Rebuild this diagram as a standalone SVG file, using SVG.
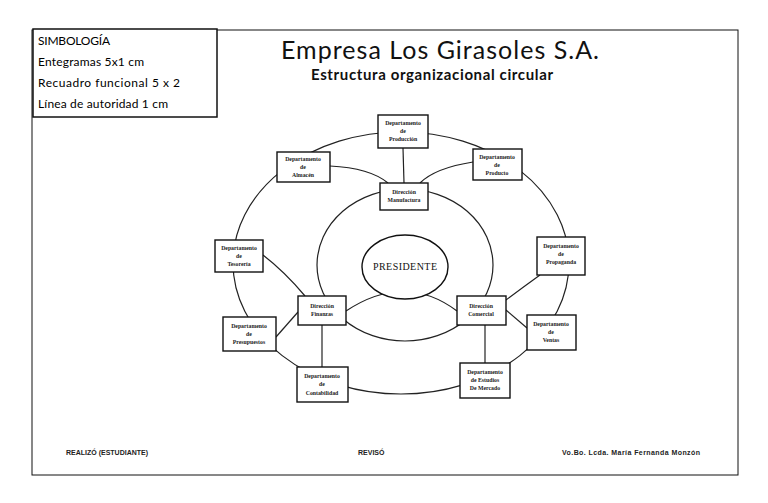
<svg xmlns="http://www.w3.org/2000/svg" width="768" height="503" viewBox="0 0 768 503">
<style>
.box{fill:#fff;stroke:#111;stroke-width:1.4}
.ln{fill:none;stroke:#222;stroke-width:1.2}
.bt{font-family:"Liberation Serif",serif;font-size:5.8px;font-weight:bold;fill:#222;text-anchor:middle}
.lg{font-family:Lato,"Liberation Sans",sans-serif;font-size:12px;fill:#000}
.ft{font-family:"Liberation Sans",sans-serif;font-size:7px;font-weight:bold;fill:#222}
</style>
<rect x="0" y="0" width="768" height="503" fill="#fff"/>
<rect x="32" y="30" width="706" height="445" fill="none" stroke="#111" stroke-width="1"/>
<g id="legend">
<rect x="33" y="29" width="184" height="88" fill="#fff" stroke="#111" stroke-width="1.5"/>
<text class="lg" x="38" y="45" textLength="72">SIMBOLOGÍA</text>
<text class="lg" x="38" y="66" textLength="106">Entegramas 5x1 cm</text>
<text class="lg" x="38" y="87" textLength="142">Recuadro funcional 5 x 2</text>
<text class="lg" x="38" y="108" textLength="130">Línea de autoridad 1 cm</text>
</g>
<g id="title">
<text x="440" y="59" font-family="Lato,'Liberation Sans',sans-serif" font-size="25" text-anchor="middle" fill="#111" textLength="318">Empresa Los Girasoles S.A.</text>
<text x="432" y="80" font-family="Lato,'Liberation Sans',sans-serif" font-size="15" font-weight="bold" text-anchor="middle" fill="#111" textLength="242">Estructura organizacional circular</text>
</g>
<g id="connectors">
<ellipse class="ln" cx="401" cy="263" rx="168" ry="131"/>
<ellipse class="ln" cx="405" cy="265" rx="88" ry="76"/>
<path class="ln" d="M346,311 Q405,272 457,311"/>
<line class="ln" x1="403" y1="148" x2="404" y2="183"/>
<path class="ln" d="M330,166 Q370,168 388,183"/>
<path class="ln" d="M473,162 Q435,168 420,183"/>
<path class="ln" d="M263,255 Q285,272 305,296"/>
<line class="ln" x1="276" y1="337" x2="298" y2="312"/>
<line class="ln" x1="322" y1="325" x2="322" y2="367"/>
<path class="ln" d="M540,275 Q522,288 506,300"/>
<line class="ln" x1="506" y1="310" x2="527" y2="328"/>
<line class="ln" x1="485" y1="325" x2="485" y2="363"/>
</g>
<g id="presidente">
<ellipse cx="405" cy="267" rx="43" ry="32" fill="#fff" stroke="#111" stroke-width="1.4"/>
<text x="405" y="270" font-family="'Liberation Serif',serif" font-size="10" text-anchor="middle" fill="#111" textLength="64">PRESIDENTE</text>
</g>
<g id="dep-produccion"><rect class="box" x="378" y="115" width="50" height="33"/><text class="bt" x="403" y="125">Departamento</text><text class="bt" x="403" y="133">de</text><text class="bt" x="403" y="141">Producción</text></g>
<g id="dep-almacen"><rect class="box" x="277" y="152" width="53" height="30"/><text class="bt" x="303" y="161">Departamento</text><text class="bt" x="303" y="169">de</text><text class="bt" x="303" y="177">Almacén</text></g>
<g id="dep-producto"><rect class="box" x="473" y="149" width="49" height="31"/><text class="bt" x="497" y="159">Departamento</text><text class="bt" x="497" y="167">de</text><text class="bt" x="497" y="175">Producto</text></g>
<g id="dir-manufactura"><rect class="box" x="380" y="183" width="48" height="27"/><text class="bt" x="404" y="194">Dirección</text><text class="bt" x="404" y="202">Manufactura</text></g>
<g id="dep-tesoreria"><rect class="box" x="215" y="240" width="48" height="32"/><text class="bt" x="239" y="250">Departamento</text><text class="bt" x="239" y="258">de</text><text class="bt" x="239" y="266">Tesorería</text></g>
<g id="dep-propaganda"><rect class="box" x="537" y="237" width="48" height="38"/><text class="bt" x="561" y="248">Departamento</text><text class="bt" x="561" y="256">de</text><text class="bt" x="561" y="264">Propaganda</text></g>
<g id="dir-finanzas"><rect class="box" x="298" y="296" width="48" height="29"/><text class="bt" x="322" y="308">Dirección</text><text class="bt" x="322" y="316">Finanzas</text></g>
<g id="dir-comercial"><rect class="box" x="457" y="296" width="49" height="29"/><text class="bt" x="481" y="308">Dirección</text><text class="bt" x="481" y="316">Comercial</text></g>
<g id="dep-presupuestos"><rect class="box" x="223" y="317" width="53" height="34"/><text class="bt" x="249" y="328">Departamento</text><text class="bt" x="249" y="336">de</text><text class="bt" x="249" y="344">Presupuestos</text></g>
<g id="dep-ventas"><rect class="box" x="527" y="315" width="49" height="35"/><text class="bt" x="551" y="326">Departamento</text><text class="bt" x="551" y="334">de</text><text class="bt" x="551" y="342">Ventas</text></g>
<g id="dep-contabilidad"><rect class="box" x="297" y="367" width="51" height="35"/><text class="bt" x="322" y="378">Departamento</text><text class="bt" x="322" y="386">de</text><text class="bt" x="322" y="395">Contabilidad</text></g>
<g id="dep-mercado"><rect class="box" x="460" y="363" width="50" height="35"/><text class="bt" x="485" y="374">Departamento</text><text class="bt" x="485" y="382">de Estudios</text><text class="bt" x="485" y="390">De Mercado</text></g>
<g id="footer">
<text class="ft" x="66" y="455">REALIZÓ (ESTUDIANTE)</text>
<text class="ft" x="358" y="455">REVISÓ</text>
<text class="ft" x="562" y="455" textLength="138">Vo.Bo. Lcda. María Fernanda Monzón</text>
</g>
</svg>
